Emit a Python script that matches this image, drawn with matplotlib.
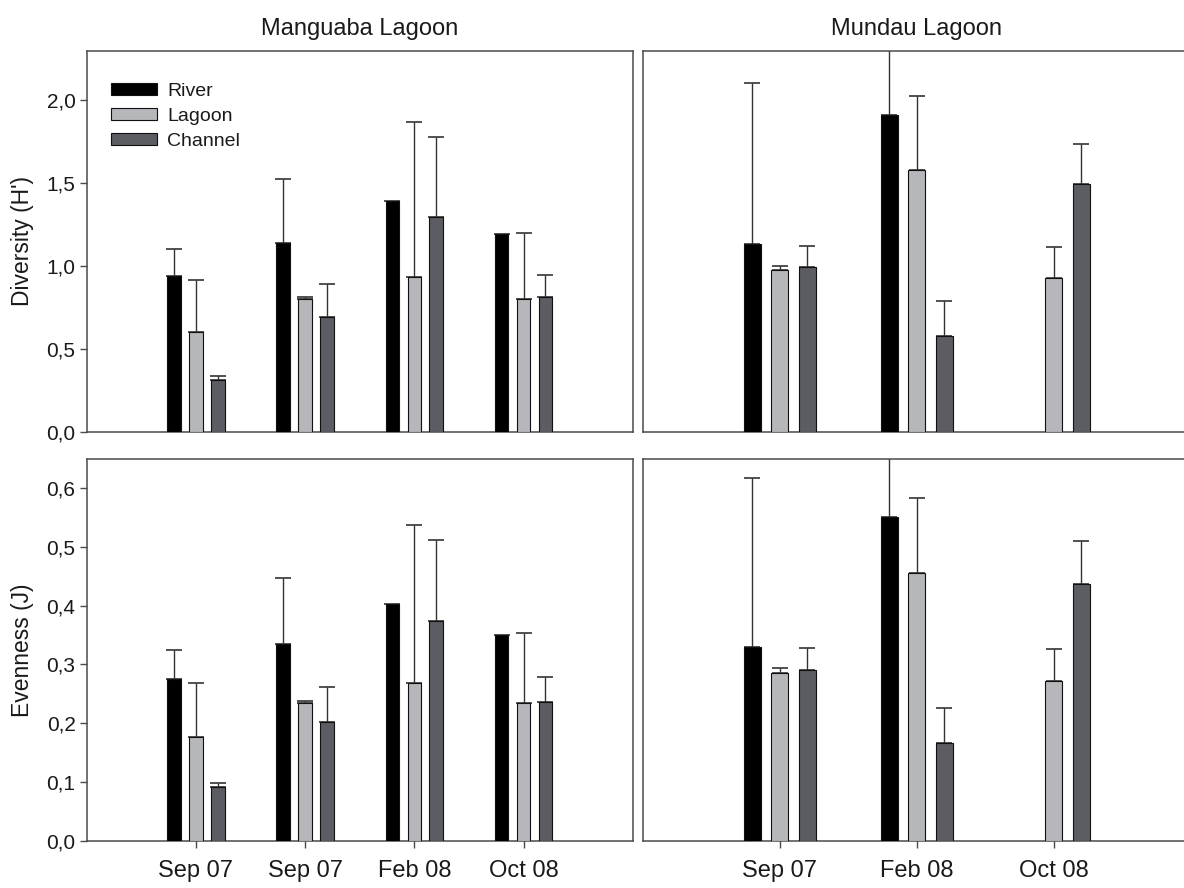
import numpy as np
import matplotlib
matplotlib.use("Agg")
import matplotlib.pyplot as plt

plt.rcParams['font.family'] = ['Liberation Sans', 'DejaVu Sans']

# ---------------- data ----------------
series = ["River", "Lagoon", "Channel"]
colors = ["#000000", "#b5b7ba", "#5c5d62"]

mang_labels = ["Sep 07", "Sep 07", "Feb 08", "Oct 08"]
mund_labels = ["Sep 07", "Feb 08", "Oct 08"]

# Diversity (H') - Manguaba
div_mang_river = [0.94, 1.14, 1.39, 1.19]
div_mang_river_err = [0.16, 0.38, np.nan, np.nan]
div_mang_lagoon = [0.60, 0.80, 0.935, 0.80]
div_mang_lagoon_err = [0.315, 0.012, 0.93, 0.40]
div_mang_channel = [0.31, 0.69, 1.295, 0.81]
div_mang_channel_err = [0.025, 0.20, 0.48, 0.137]

# Diversity (H') - Mundau
div_mund_river = [1.13, 1.91, np.nan]
div_mund_river_err = [0.97, 0.60, np.nan]
div_mund_lagoon = [0.978, 1.578, 0.924]
div_mund_lagoon_err = [0.022, 0.446, 0.19]
div_mund_channel = [0.994, 0.58, 1.49]
div_mund_channel_err = [0.124, 0.207, 0.245]

# Evenness (J) - Manguaba
eve_mang_river = [0.276, 0.335, 0.402, 0.350]
eve_mang_river_err = [0.048, 0.112, np.nan, np.nan]
eve_mang_lagoon = [0.177, 0.235, 0.268, 0.234]
eve_mang_lagoon_err = [0.091, 0.003, 0.270, 0.120]
eve_mang_channel = [0.0916, 0.202, 0.374, 0.236]
eve_mang_channel_err = [0.0064, 0.060, 0.138, 0.042]

# Evenness (J) - Mundau
eve_mund_river = [0.330, 0.551, np.nan]
eve_mund_river_err = [0.288, 0.15, np.nan]
eve_mund_lagoon = [0.286, 0.455, 0.271]
eve_mund_lagoon_err = [0.008, 0.128, 0.056]
eve_mund_channel = [0.290, 0.166, 0.4375]
eve_mund_channel_err = [0.038, 0.060, 0.0725]

div_ticks = [0.0, 0.5, 1.0, 1.5, 2.0]
eve_ticks = [0.0, 0.1, 0.2, 0.3, 0.4, 0.5, 0.6]

# ---------------- figure ----------------
W, H = 1184, 888
fig = plt.figure(figsize=(W / 100, H / 100), dpi=100)

def fx(px):
    return px / W

def fy(px):
    return 1 - px / H

left_l, right_l = 86.7, 632.7
left_r, right_r = 642.7, 1190.7
top_t, bot_t = 50.7, 432.0
top_b, bot_b = 459.3, 840.7

ax_tl = fig.add_axes([fx(left_l), fy(bot_t), fx(right_l - left_l), (bot_t - top_t) / H])
ax_tr = fig.add_axes([fx(left_r), fy(bot_t), fx(right_r - left_r), (bot_t - top_t) / H])
ax_bl = fig.add_axes([fx(left_l), fy(bot_b), fx(right_l - left_l), (bot_b - top_b) / H])
ax_br = fig.add_axes([fx(left_r), fy(bot_b), fx(right_r - left_r), (bot_b - top_b) / H])

width = 0.124
offsets = [-0.2, 0.0, 0.2]
spine_col = "#4a4a4a"
txt_col = "#1a1a1a"


def draw(ax, means_list, errs_list, labels):
    x = np.arange(1, len(labels) + 1)
    handles = []
    for k, (m, e) in enumerate(zip(means_list, errs_list)):
        m = np.asarray(m, float)
        e = np.asarray(e, float)
        b = ax.bar(x + offsets[k], m, width, color=colors[k], edgecolor="#111111",
                   linewidth=0.8, zorder=3, label=series[k])
        handles.append(b)
        ax.errorbar(x + offsets[k], m, yerr=[np.zeros_like(e), e], fmt="none",
                    ecolor="#333333", elinewidth=1.0, capsize=5.5, capthick=1.2,
                    zorder=2)
    ax.set_xlim(0, len(labels) + 1)
    for s in ax.spines.values():
        s.set_color(spine_col)
        s.set_linewidth(1.1)
    return x, handles


x_l, handles = draw(ax_tl, [div_mang_river, div_mang_lagoon, div_mang_channel],
                    [div_mang_river_err, div_mang_lagoon_err, div_mang_channel_err], mang_labels)
x_r, _ = draw(ax_tr, [div_mund_river, div_mund_lagoon, div_mund_channel],
              [div_mund_river_err, div_mund_lagoon_err, div_mund_channel_err], mund_labels)
draw(ax_bl, [eve_mang_river, eve_mang_lagoon, eve_mang_channel],
     [eve_mang_river_err, eve_mang_lagoon_err, eve_mang_channel_err], mang_labels)
draw(ax_br, [eve_mund_river, eve_mund_lagoon, eve_mund_channel],
     [eve_mund_river_err, eve_mund_lagoon_err, eve_mund_channel_err], mund_labels)

for ax in (ax_tl, ax_tr):
    ax.set_ylim(0, 2.295)
for ax in (ax_bl, ax_br):
    ax.set_ylim(0, 0.649)

# y ticks
ax_tl.set_yticks(div_ticks)
ax_tl.set_yticklabels([f"{t:.1f}".replace(".", ",") for t in div_ticks])
ax_bl.set_yticks(eve_ticks)
ax_bl.set_yticklabels([f"{t:.1f}".replace(".", ",") for t in eve_ticks])
for ax in (ax_tr, ax_br):
    ax.set_yticks([])
for ax in (ax_tl, ax_bl):
    ax.tick_params(axis="y", direction="out", length=5, width=1.0, color=spine_col,
                   labelsize=15, labelcolor=txt_col, pad=3)

# x ticks
for ax in (ax_tl, ax_tr):
    ax.set_xticks([])
ax_bl.set_xticks(x_l)
ax_bl.set_xticklabels(mang_labels)
ax_br.set_xticks(x_r)
ax_br.set_xticklabels(mund_labels)
for ax in (ax_bl, ax_br):
    ax.tick_params(axis="x", direction="out", length=5, width=1.0, color=spine_col,
                   labelsize=17, labelcolor=txt_col, pad=9)

# titles
ax_tl.set_title("Manguaba Lagoon", fontsize=17, color=txt_col, pad=11)
ax_tr.set_title("Mundau Lagoon", fontsize=17, color=txt_col, pad=11)

# y labels
ax_tl.set_ylabel("Diversity (H')", fontsize=16.5, color=txt_col, labelpad=9)
ax_bl.set_ylabel("Evenness (J)", fontsize=16.5, color=txt_col, labelpad=9)

# legend
leg = ax_tl.legend(handles=handles, labels=series, loc="upper left",
                   bbox_to_anchor=(0.044, 0.915), frameon=False, fontsize=14,
                   handlelength=2.4, handleheight=0.55, handletextpad=0.5,
                   labelspacing=0.40, borderpad=0, borderaxespad=0)
for t in leg.get_texts():
    t.set_color(txt_col)

fig.savefig("out.png", dpi=100)
